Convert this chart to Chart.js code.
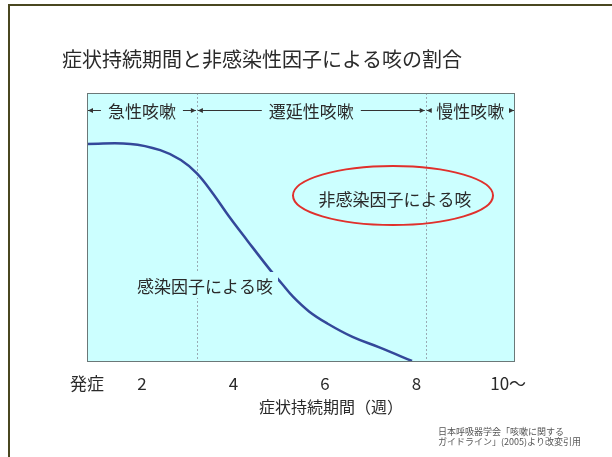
<!DOCTYPE html>
<html>
<head>
<meta charset="utf-8">
<script src="https://cdn.jsdelivr.net/npm/chart.js@4/dist/chart.umd.min.js"></script>
<style>
  html, body { margin: 0; padding: 0; background: #ffffff; }
  #wrap { width: 612px; height: 457px; }
</style>
</head>
<body>
<div id="wrap"><canvas id="c" width="612" height="457"></canvas></div>
<script>
// Share of cough due to infection, by symptom duration (weeks)
const chartTitle = '症状持続期間と非感染性因子による咳の割合';
const axisTitle = '症状持続期間（週）';
const weeks = [0.8, 1.75, 2.4, 2.85, 3.2, 3.55, 3.9, 4.3, 4.8, 5.05, 5.3, 5.65, 6.05, 6.6, 7.2, 7.9];
const infectiousShare = [81, 81, 78.7, 75, 70, 62.5, 54, 45, 34, 29, 24, 18.5, 14, 9, 5, 0];
const tickValues = [0.8, 2, 4, 6, 8, 10];
const tickLabels = ['発症', '2', '4', '6', '8', '10〜'];
const phaseBounds = [0.8, 3.2, 8.2, 10.15];
const phaseNames = ['急性咳嗽', '遷延性咳嗽', '慢性咳嗽'];
const curveLabel = '感染因子による咳';
const nonInfectiousLabel = '非感染因子による咳';
const sourceNote = ['日本呼吸器学会「咳嗽に関する', 'ガイドライン」(2005)より改変引用'];

const JP = '"Noto Sans CJK JP", "Noto Sans", sans-serif';
const PLOT_BG = '#ccffff';
const TEXT = '#2a2a2a';

function arrowHead(ctx, x, y, dir) {
  ctx.beginPath();
  ctx.moveTo(x, y);
  ctx.lineTo(x - dir * 5, y - 2.5);
  ctx.lineTo(x - dir * 5, y + 2.5);
  ctx.closePath();
  ctx.fill();
}

const decor = {
  id: 'decor',
  beforeDraw(chart) {
    const ctx = chart.ctx;
    ctx.save();
    // slide frame
    ctx.strokeStyle = '#4a4720';
    ctx.lineWidth = 2;
    ctx.beginPath();
    ctx.moveTo(9, 457);
    ctx.lineTo(9, 5);
    ctx.lineTo(612, 5);
    ctx.stroke();
    // title
    ctx.fillStyle = TEXT;
    ctx.font = '20px ' + JP;
    ctx.textAlign = 'center';
    ctx.textBaseline = 'middle';
    ctx.fillText(chartTitle, 262, 59);
    ctx.restore();
  },
  beforeDatasetsDraw(chart) {
    const { ctx, chartArea: a, scales: { x } } = chart;
    ctx.save();
    ctx.fillStyle = PLOT_BG;
    ctx.fillRect(a.left, a.top, a.right - a.left, a.bottom - a.top);
    // phase dividers
    ctx.strokeStyle = '#9aaab4';
    ctx.lineWidth = 1;
    ctx.setLineDash([2, 2]);
    for (let i = 1; i < phaseBounds.length - 1; i++) {
      const px = Math.round(x.getPixelForValue(phaseBounds[i])) + 0.5;
      ctx.beginPath();
      ctx.moveTo(px, a.top);
      ctx.lineTo(px, a.bottom);
      ctx.stroke();
    }
    ctx.setLineDash([]);
    ctx.restore();
  },
  afterDatasetsDraw(chart) {
    const { ctx, chartArea: a, scales: { x } } = chart;
    ctx.save();
    // phase arrows and names
    const ly = 110;
    ctx.font = '17px ' + JP;
    ctx.textAlign = 'center';
    ctx.textBaseline = 'middle';
    for (let i = 0; i < phaseNames.length; i++) {
      const x0 = x.getPixelForValue(phaseBounds[i]) + 1;
      const x1 = Math.min(x.getPixelForValue(phaseBounds[i + 1]) - 1, a.right - 1);
      const cx = (x0 + x1) / 2;
      const tw = ctx.measureText(phaseNames[i]).width;
      ctx.strokeStyle = '#333333';
      ctx.fillStyle = '#333333';
      ctx.lineWidth = 1;
      ctx.beginPath();
      ctx.moveTo(x0, ly + 0.5);
      ctx.lineTo(cx - tw / 2 - 7, ly + 0.5);
      ctx.moveTo(cx + tw / 2 + 7, ly + 0.5);
      ctx.lineTo(x1, ly + 0.5);
      ctx.stroke();
      arrowHead(ctx, x0, ly + 0.5, -1);
      arrowHead(ctx, x1, ly + 0.5, 1);
      ctx.fillStyle = TEXT;
      ctx.fillText(phaseNames[i], cx, ly + 2);
    }
    // label on the infection curve
    ctx.fillStyle = PLOT_BG;
    ctx.fillRect(133, 272, 145, 26);
    ctx.fillStyle = TEXT;
    ctx.font = '17px ' + JP;
    ctx.fillText(curveLabel, 205, 287);
    // non-infectious region callout
    ctx.strokeStyle = '#e0302c';
    ctx.lineWidth = 2;
    ctx.beginPath();
    ctx.ellipse(393, 195.5, 100, 29.5, 0, 0, Math.PI * 2);
    ctx.stroke();
    ctx.fillStyle = TEXT;
    ctx.fillText(nonInfectiousLabel, 395, 200);
    // plot frame
    ctx.strokeStyle = '#6b7878';
    ctx.lineWidth = 1;
    ctx.strokeRect(a.left + 0.5, a.top + 0.5, a.right - a.left - 1, a.bottom - a.top);
    ctx.restore();
  },
  afterDraw(chart) {
    const ctx = chart.ctx;
    ctx.save();
    ctx.fillStyle = TEXT;
    ctx.font = '16px ' + JP;
    ctx.textAlign = 'center';
    ctx.textBaseline = 'middle';
    ctx.fillText(axisTitle, 331, 407);
    ctx.fillStyle = '#555555';
    ctx.font = '9px ' + JP;
    ctx.textAlign = 'left';
    ctx.fillText(sourceNote[0], 438, 432);
    ctx.fillText(sourceNote[1], 438, 442);
    ctx.restore();
  }
};

new Chart(document.getElementById('c'), {
  type: 'line',
  data: {
    datasets: [{
      data: weeks.map((w, i) => ({ x: w, y: infectiousShare[i] })),
      borderColor: '#34489a',
      borderWidth: 2.5,
      pointRadius: 0,
      tension: 0.4,
      fill: false
    }]
  },
  options: {
    responsive: false,
    animation: false,
    events: [],
    layout: { padding: { left: 87, right: 97, top: 93, bottom: 56 } },
    plugins: { legend: { display: false }, tooltip: { enabled: false }, title: { display: false } },
    scales: {
      x: {
        type: 'linear',
        min: phaseBounds[0],
        max: phaseBounds[phaseBounds.length - 1],
        grid: { display: false, drawTicks: false },
        border: { display: false },
        afterBuildTicks: (s) => { s.ticks = tickValues.map(v => ({ value: v })); },
        afterFit: (s) => { s.height = 40; },
        ticks: {
          autoSkip: false,
          maxRotation: 0,
          padding: 12,
          color: TEXT,
          font: { family: JP, size: 17 },
          callback: (v) => tickLabels[tickValues.indexOf(v)]
        }
      },
      y: { display: false, min: 0, max: 100 }
    }
  },
  plugins: [decor]
});
</script>
</body>
</html>
